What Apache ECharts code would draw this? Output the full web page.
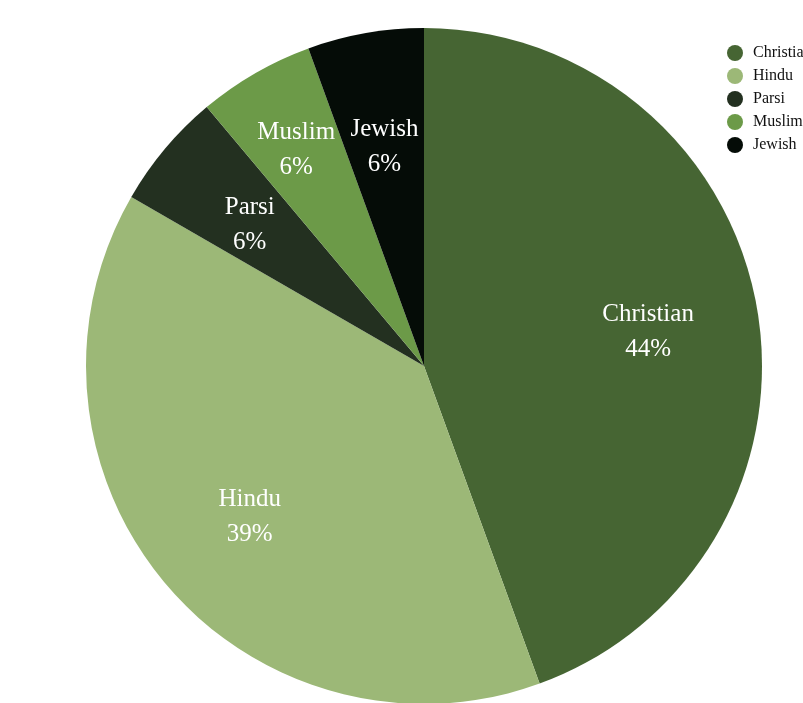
<!DOCTYPE html>
<html>
<head>
<meta charset="utf-8">
<script src="https://cdn.jsdelivr.net/npm/echarts@6/dist/echarts.min.js"></script>
<style>html,body{margin:0;padding:0;background:#fff;}#c{width:803px;height:703px;}</style>
</head>
<body>
<div id="c"></div>
<script>
const categories = ['Christian', 'Hindu', 'Parsi', 'Muslim', 'Jewish'];
const values = [8, 7, 1, 1, 1];
const colors = ['#466533', '#9cb877', '#233020', '#6c9a48', '#050c07'];

const total = values.reduce((a, b) => a + b, 0);
const data = categories.map((name, i) => ({ name, value: values[i], itemStyle: { color: colors[i] } }));
const font = '"Liberation Serif", "Times New Roman", serif';

const chart = echarts.init(document.getElementById('c'), null, { renderer: 'canvas' });
chart.setOption({
  backgroundColor: '#ffffff',
  animation: false,
  legend: {
    orient: 'vertical',
    left: 722,
    top: 40,
    icon: 'circle',
    itemWidth: 16,
    itemHeight: 16,
    itemGap: 7,
    data: categories,
    textStyle: { fontFamily: font, fontSize: 16, color: '#111', padding: [0, 0, 0, 5] }
  },
  series: [
    {
      type: 'pie',
      center: [424, 366],
      radius: [0, 338],
      startAngle: 90,
      clockwise: true,
      data: data,
      label: { show: false },
      labelLine: { show: false },
      emphasis: { disabled: true }
    },
    {
      type: 'pie',
      center: [424, 366],
      radius: [111, 338],
      startAngle: 90,
      clockwise: true,
      silent: true,
      avoidLabelOverlap: false,
      legendHoverLink: false,
      data: categories.map((name, i) => ({ name, value: values[i], itemStyle: { color: 'rgba(0,0,0,0)' } })),
      label: {
        show: true,
        position: 'inside',
        color: '#ffffff',
        fontFamily: font,
        fontSize: 25,
        lineHeight: 35,
        formatter: p => p.name + '\n' + Math.round(p.value / total * 100) + '%'
      },
      labelLayout: p => (p.dataIndex === 3 ? { dx: -14, dy: -19, hideOverlap: false } : { dy: 5, hideOverlap: false }),
      labelLine: { show: false },
      emphasis: { disabled: true }
    }
  ]
});
</script>
</body>
</html>
